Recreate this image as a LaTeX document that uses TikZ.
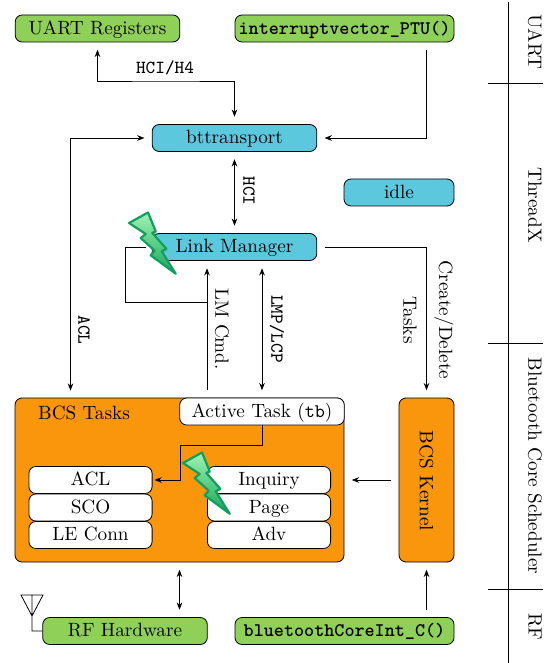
\documentclass[tikz,border=0pt]{standalone}
\usepackage{amsmath, amssymb}
\usepackage{tikz}
\usetikzlibrary{arrows.meta, shadows}

\definecolor{hwgreen}{HTML}{8FD158}
\definecolor{threadblue}{HTML}{5CC8DE}
\definecolor{bcsorange}{HTML}{F9960C}
\definecolor{boltedge}{HTML}{0FA060}
\definecolor{boltlight}{HTML}{A0F2B4}
\definecolor{boltdark}{HTML}{18A858}

\begin{document}
\fontsize{9.6}{11.5}\selectfont
\begin{tikzpicture}[
      x=0.5pt, y=-0.5pt,
      box/.style={draw, rounded corners=3.5pt, align=center, inner sep=0pt, minimum height=13.5pt,
                  text height=7.2pt, text depth=1.5pt},
      hw/.style={box, fill=hwgreen, minimum width=82.3pt},
      hwfn/.style={box, fill=hwgreen, minimum width=109.5pt, font=\ttfamily\bfseries},
      thrd/.style={box, fill=threadblue, minimum width=82.3pt},
      slot/.style={box, fill=white, minimum width=61.6pt},
      arr/.style={-{Stealth[length=3.6pt, width=2.8pt]}, shorten >=3.7pt, shorten <=3.7pt},
      dbl/.style={arr, {Stealth[length=3.6pt, width=2.8pt]}-{Stealth[length=3.6pt, width=2.8pt]}},
      lab/.style={rotate=-90, inner sep=0pt},
      ttlab/.style={inner sep=0pt, font=\ttfamily\fontsize{9.2}{11}\selectfont},
      lane/.style={rotate=-90, inner sep=0pt},
      bolt/.pic={
        \path[draw=boltedge, line width=1.1pt, line join=round, top color=boltlight, bottom color=boltdark,
              drop shadow={shadow xshift=0.8pt, shadow yshift=-1pt, opacity=0.3}]
          (0,10.5) -- (19,0) -- (26.7,18.8) -- (23.3,20.5) -- (37.3,36.2) -- (32.7,38.8) -- (46.7,61.2)
          -- (21.7,42.8) -- (25.7,38.2) -- (11.7,25.5) -- (16.7,21.5) -- cycle;
      },
    ]
    \useasboundingbox (0,0) rectangle (543,663);
    % top row
    \node[hw] (uart) at (97.5,28.5) {UART Registers};
    \node[hwfn] (ptu) at (344.5,28.5) {interruptvector\_PTU()};
    % threads
    \node[thrd] (bt) at (234.5,138) {bttransport};
    \node[thrd, minimum width=55pt] (idle) at (399,192.5) {idle};
    \node[thrd] (lm) at (234.5,247) {Link Manager};
    % scheduler
    \node[box, fill=bcsorange, minimum width=164.5pt, minimum height=82pt] (tasks) at (179.5,480) {};
    \node[inner sep=0pt] (tasklab) at (84,413) {BCS Tasks};
    \node[box, fill=white, minimum width=82.3pt] (active) at (262,411.5) {Active Task (\texttt{tb})};
    \node[box, fill=bcsorange, minimum width=27.5pt, minimum height=82pt] (kernel) at (426.5,480) {};
    \node[lab] (kernellab) at (426.5,481) {BCS Kernel};
    \foreach \n/\y/\txt in {acl/480/ACL, sco/507.5/SCO, le/535/LE Conn} {
      \node[slot] (\n) at (90.5,\y) {\txt};
    }
    \foreach \n/\y/\txt in {inq/480/Inquiry, page/507.5/Page, adv/535/Adv} {
      \node[slot] (\n) at (269,\y) {\txt};
    }
    % bottom row
    \node[hw] (rf) at (125,631) {RF Hardware};
    \node[hwfn] (core) at (344.5,631) {bluetoothCoreInt\_C()};
    % connectors
    \coordinate (h4) at (166,81);
    \coordinate (aclin) at (70.5,398);
    \coordinate (cmd) at (207,302);
    \coordinate (loop) at (125,302);
    \draw[dbl] (uart.south) |- (h4) -| (bt.north);
    \draw[arr] (ptu.south -| kernel) |- (bt.east);
    \draw[dbl] (bt) -- (lm);
    \draw[dbl] (bt.west) -| (aclin);
    \draw[arr] (lm.east) -| (kernel.north);
    \draw[arr] (inq.west |- tasks.north) -- (inq.west |- lm.south);
    \draw[shorten >=3pt] (cmd) -- (loop) |- (lm.west);
    \draw[dbl] (active.north) -- (active |- lm.south);
    \draw[arr, shorten <=0pt, shorten >=1pt] (active.south) -- ++(0,20) -- ++(-82,0) |- (acl.east);
    \draw[arr] (kernel.west) -- (tasks.east);
    \draw[arr] (core.north -| kernel) -- (kernel.south);
    \draw[dbl] (tasks.south) -- (tasks.south |- rf.north);
    % connector labels
    \node[ttlab] (h4lab) at (165,68) {HCI/H4};
    \node[ttlab, rotate=-90] (hcilab) at (249,191) {HCI};
    \node[ttlab, rotate=-90] (acllab) at (84,330) {ACL};
    \node[lab] (cmdlab) at (222,329) {LM Cmd.};
    \node[ttlab, rotate=-90] (lmplab) at (277,329) {LMP/LCP};
    \node[lab] (createlab) at (444,320) {Create/Delete};
    \node[lab] (taskslab) at (410,320) {Tasks};
    % antenna
    \coordinate (ant) at (32,616);
    \draw (rf.west) -| (ant) -- (21,595) -- (43,595) -- (ant) -- (32,595);
    % bolts
    \pic (bolta) at (129,212.5) {bolt};
    \pic (boltb) at (183,452.5) {bolt};
    % lanes
    \coordinate (lanetop) at (508,2);
    \coordinate (lanebot) at (508,663);
    \draw (lanetop) -- (lanebot);
    \foreach \y in {83,343,589} {
      \draw (488,\y) -- (543,\y);
    }
    \node[lane] (l1) at (535,42) {UART};
    \node[lane] (l2) at (535,205) {ThreadX};
    \node[lane] (l3) at (535,466) {Bluetooth Core Scheduler};
    \node[lane] (l4) at (535,627) {RF};
  \end{tikzpicture}
\end{document}
